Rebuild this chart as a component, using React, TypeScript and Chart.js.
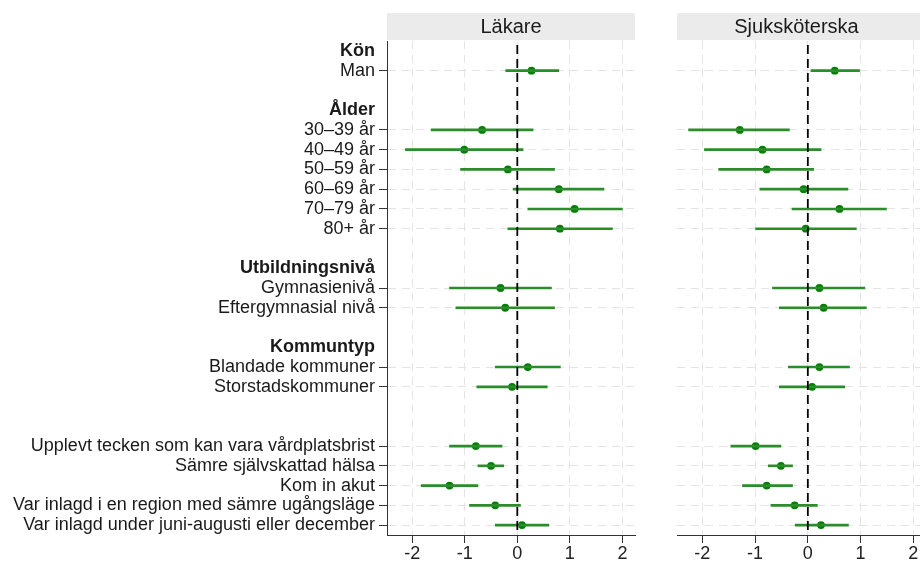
import React, { useEffect, useRef } from 'react';
import { Chart, registerables } from 'chart.js';

Chart.register(...registerables);

const FONT = '"Liberation Sans", Arial, Helvetica, sans-serif';

const rowLabels = [
  'Kön', 'Man', '',
  'Ålder', '30–39 år', '40–49 år', '50–59 år', '60–69 år', '70–79 år', '80+ år', '',
  'Utbildningsnivå', 'Gymnasienivå', 'Eftergymnasial nivå', '',
  'Kommuntyp', 'Blandade kommuner', 'Storstadskommuner', '', '',
  'Upplevt tecken som kan vara vårdplatsbrist',
  'Sämre självskattad hälsa',
  'Kom in akut',
  'Var inlagd i en region med sämre ugångsläge',
  'Var inlagd under juni-augusti eller december',
];
const headerRows = ['Kön', 'Ålder', 'Utbildningsnivå', 'Kommuntyp'];

const panelTitles = ['Läkare', 'Sjuksköterska'];
const xTicks = [-2, -1, 0, 1, 2];

const lakareEst = [null, 0.27, null, null, -0.67, -1.01, -0.18, 0.79, 1.09, 0.81, null, null, -0.32, -0.23, null, null, 0.20, -0.10, null, null, -0.79, -0.50, -1.29, -0.42, 0.09];
const lakareLow = [null, -0.22, null, null, -1.64, -2.13, -1.08, -0.08, 0.20, -0.18, null, null, -1.29, -1.17, null, null, -0.42, -0.77, null, null, -1.29, -0.75, -1.83, -0.91, -0.42];
const lakareHigh = [null, 0.79, null, null, 0.30, 0.11, 0.71, 1.65, 2.00, 1.81, null, null, 0.65, 0.71, null, null, 0.82, 0.57, null, null, -0.29, -0.26, -0.75, 0.06, 0.60];

const sskEst = [null, 0.51, null, null, -1.29, -0.86, -0.78, -0.08, 0.60, -0.04, null, null, 0.22, 0.30, null, null, 0.22, 0.08, null, null, -0.99, -0.51, -0.78, -0.25, 0.25];
const sskLow = [null, 0.06, null, null, -2.26, -1.96, -1.69, -0.91, -0.30, -0.99, null, null, -0.67, -0.54, null, null, -0.37, -0.54, null, null, -1.46, -0.75, -1.24, -0.70, -0.24];
const sskHigh = [null, 0.98, null, null, -0.35, 0.25, 0.11, 0.76, 1.49, 0.92, null, null, 1.08, 1.11, null, null, 0.79, 0.70, null, null, -0.51, -0.29, -0.29, 0.18, 0.77];

const X_MIN = -2.48;
const X_MAX = 2.24;

const isDataRow = (i: number) => lakareEst[i] !== null && lakareEst[i] !== undefined;

const stripPlugin = {
  id: 'strip',
  beforeDraw(chart: any, _args: any, opts: any) {
    const { ctx, chartArea } = chart;
    ctx.save();
    ctx.fillStyle = '#ebebeb';
    ctx.fillRect(chartArea.left, 13, chartArea.right - chartArea.left, 27);
    ctx.fillStyle = '#1a1a1a';
    ctx.font = `20px ${FONT}`;
    ctx.textAlign = 'center';
    ctx.textBaseline = 'middle';
    const right = opts.visibleRight !== undefined ? Math.min(chartArea.right, opts.visibleRight) : chartArea.right;
    ctx.fillText(opts.text, (chartArea.left + right) / 2 + (opts.shift || 0), 27);
    ctx.restore();
  },
};

const zeroLinePlugin = {
  id: 'zeroLine',
  afterDatasetsDraw(chart: any) {
    const { ctx, chartArea } = chart;
    const x = chart.scales.x.getPixelForValue(0);
    ctx.save();
    ctx.strokeStyle = '#000';
    ctx.lineWidth = 1.8;
    ctx.setLineDash([9, 5]);
    ctx.beginPath();
    ctx.moveTo(x, chartArea.top + 4);
    ctx.lineTo(x, chartArea.bottom);
    ctx.stroke();
    ctx.restore();
  },
};

function makeChart(canvas: HTMLCanvasElement, title: string, est: any[], low: any[], high: any[], showY: boolean) {
  const bars = low.map((l, i) => (l === null ? null : [l, high[i]]));
  return new Chart(canvas, {
    type: 'bar',
    data: {
      labels: rowLabels,
      datasets: [
        {
          type: 'bar',
          data: bars as any,
          backgroundColor: '#2a8c2a',
          borderWidth: 0,
          barThickness: 2,
          indexAxis: 'y',
        } as any,
        {
          type: 'line',
          data: est as any,
          showLine: false,
          indexAxis: 'y',
          pointRadius: 3.9,
          pointBackgroundColor: '#007f00',
          pointBorderWidth: 0,
          borderColor: '#007f00',
        } as any,
      ],
    },
    options: {
      indexAxis: 'y',
      responsive: false,
      animation: false,
      events: [],
      layout: { padding: { top: 41, left: showY ? 0 : 32, right: showY ? 10 : 0, bottom: 0 } },
      plugins: {
        legend: { display: false },
        tooltip: { enabled: false },
        strip: { text: title, visibleRight: showY ? undefined : 920 - 645, shift: showY ? 0 : -2 },
      } as any,
      scales: {
        x: {
          type: 'linear',
          min: X_MIN,
          max: X_MAX,
          afterBuildTicks: (scale: any) => {
            scale.ticks = xTicks.map((v) => ({ value: v }));
          },
          afterFit: (scale: any) => {
            scale.height = 26;
          },
          ticks: {
            includeBounds: false,
            stepSize: 1,
            padding: 0,
            color: '#222',
            font: { family: FONT, size: 18 },
            callback: (v: any) => String(v),
          },
          grid: {
            color: '#e4e4e4',
            lineWidth: 1,
            tickLength: 8,
            tickColor: '#333',
            tickBorderDash: [],
            tickWidth: 1,
          },
          border: { display: true, color: '#333', width: 1, dash: [8, 6] },
        },
        y: {
          type: 'category',
          offset: true,
          afterFit: (scale: any) => {
            scale.width = showY ? 387 : 0;
          },
          ticks: {
            display: showY,
            autoSkip: false,
            padding: 4,
            color: '#1a1a1a',
            font: (ctx: any) => ({
              family: FONT,
              size: 18,
              weight: headerRows.includes(rowLabels[ctx.index]) ? 'bold' : 'normal',
            }),
          },
          grid: {
            offset: false,
            drawTicks: showY,
            tickLength: 8,
            color: (ctx: any) => (isDataRow(ctx.index) ? '#e4e4e4' : 'rgba(0,0,0,0)'),
            tickColor: (ctx: any) => (isDataRow(ctx.index) ? '#333' : 'rgba(0,0,0,0)'),
            tickBorderDash: [],
            lineWidth: 1,
          },
          border: { display: showY, color: '#333', width: 1, dash: [8, 6] },
        },
      },
    } as any,
    plugins: [stripPlugin, zeroLinePlugin],
  });
}

export default function App() {
  const leftRef = useRef<HTMLCanvasElement>(null);
  const rightRef = useRef<HTMLCanvasElement>(null);

  useEffect(() => {
    const c1 = makeChart(leftRef.current!, panelTitles[0], lakareEst, lakareLow, lakareHigh, true);
    const c2 = makeChart(rightRef.current!, panelTitles[1], sskEst, sskLow, sskHigh, false);
    return () => {
      c1.destroy();
      c2.destroy();
    };
  }, []);

  return (
    <div
      style={{
        position: 'absolute',
        left: 0,
        top: 0,
        width: 920,
        height: 561,
        overflow: 'hidden',
        background: '#fff',
      }}
    >
      <canvas ref={leftRef} width={645} height={561} style={{ position: 'absolute', left: 0, top: 0 }} />
      <canvas ref={rightRef} width={285} height={561} style={{ position: 'absolute', left: 645, top: 0 }} />
    </div>
  );
}
